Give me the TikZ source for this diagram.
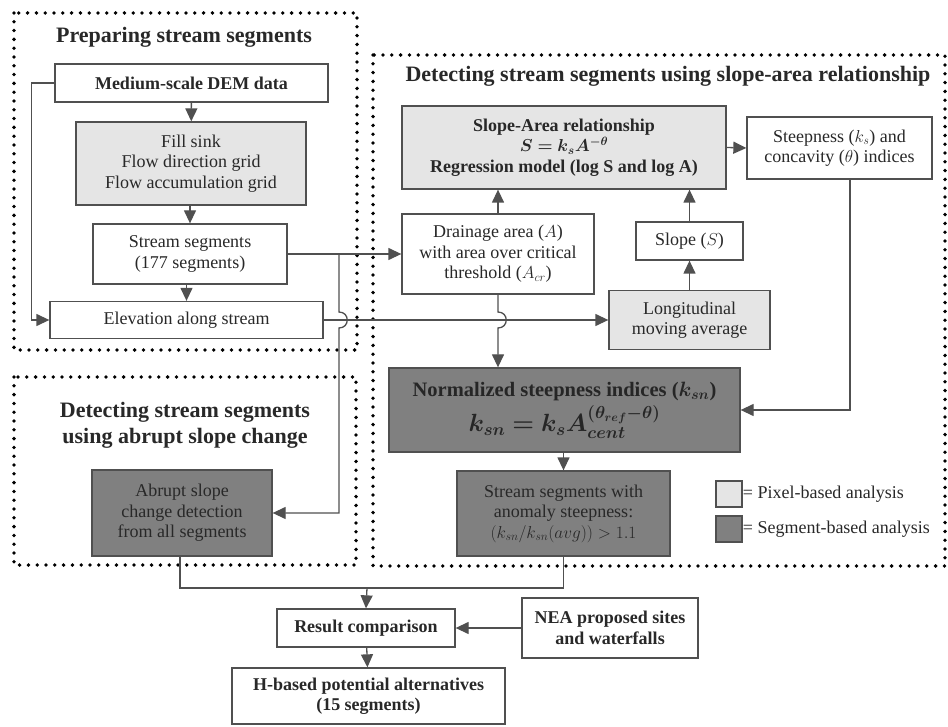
\documentclass[tikz,border=0pt]{standalone}
\usepackage{amsmath,bm}
\usepackage{fontspec}
\setmainfont{Liberation Serif}
\usepackage{tikz}
\usetikzlibrary{arrows.meta}
\definecolor{flowlight}{RGB}{229,229,229}
\definecolor{flowdark}{RGB}{128,128,128}
\definecolor{flowline}{RGB}{80,80,80}
\definecolor{flowtext}{RGB}{40,40,40}

\begin{document}
\begin{tikzpicture}[x=1pt,y=-1pt,
    every node/.style={font=\fontsize{18}{20.5}\selectfont,text=flowtext,align=center,inner sep=0pt},
    box/.style={draw=flowline,line width=1.3pt},
    whitebox/.style={box,fill=white},
    pixbox/.style={box,fill=flowlight},
    segbox/.style={box,fill=flowdark},
    heading/.style={font=\fontsize{22}{26}\selectfont\bfseries},
    link/.style={draw=flowline,line width=1.3pt},
    arr/.style={link,-{Triangle[length=13pt,width=12pt]}},
    frame/.style={draw=black,line width=3.8pt,line cap=round,dash pattern=on 0pt off 8.8pt}]
  \useasboundingbox (0,0) rectangle (948,727);
  % dotted groups
  \draw[frame] (14,13) rectangle (357,350);
  \draw[frame] (373,55) rectangle (945,566);
  \draw[frame] (14,377) rectangle (356,565);
  \node[heading] (t1) at (184,37) {Preparing stream segments};
  \node[heading] (t2) at (668,76) {Detecting stream segments using slope-area relationship};
  \node[heading] (t3) at (185,425) {Detecting stream segments\\using abrupt slope change};

  % preparing stream segments
  \node[whitebox,minimum width=273pt,minimum height=38pt,font=\fontsize{18}{20.5}\selectfont\bfseries] (dem) at (191.5,83) {Medium-scale DEM data};
  \node[pixbox,minimum width=230pt,minimum height=83pt] (fill) at (191,163.5) {Fill sink\\Flow direction grid\\Flow accumulation grid};
  \node[whitebox,minimum width=194pt,minimum height=60pt] (seg) at (190,254) {Stream segments\\(177 segments)};
  \node[whitebox,minimum width=273pt,minimum height=37pt] (elev) at (186.5,320) {Elevation along stream};

  % slope-area relationship
  \node[pixbox,minimum width=324pt,minimum height=83pt,font=\fontsize{18}{20.5}\selectfont\bfseries] (sa) at (564,147.5) {Slope-Area relationship\\$\bm{S=k_sA^{-\theta}}$\\Regression model (log S and log A)};
  \node[whitebox,minimum width=185pt,minimum height=62pt] (steep) at (839.5,148) {Steepness ($k_s$) and\\concavity ($\theta$) indices};
  \node[whitebox,minimum width=192pt,minimum height=80pt] (drain) at (498,254) {Drainage area ($A$)\\with area over critical\\threshold ($A_{cr}$)};
  \node[whitebox,minimum width=107pt,minimum height=38pt] (slope) at (689.5,241) {Slope ($S$)};
  \node[pixbox,minimum width=161pt,minimum height=59pt] (longi) at (689.5,320) {Longitudinal\\moving average};
  \node[segbox,minimum width=351pt,minimum height=84pt,text=black!85,font=\fontsize{20.5}{24}\selectfont\bfseries] (norm) at (564.5,410) {Normalized steepness indices ($\bm{k_{sn}}$)\\[4pt]{\fontsize{23}{26}\selectfont$\bm{k_{sn}=k_sA_{cent}^{(\theta_{ref}-\theta)}}$}};
  \node[segbox,minimum width=213pt,minimum height=85pt] (anom) at (563.5,513.5) {Stream segments with\\anomaly steepness:\\$(k_{sn}/k_{sn}(avg))>1.1$};

  % legend
  \node[pixbox,minimum width=26pt,minimum height=26pt] (lgpix) at (729,494) {};
  \node[segbox,minimum width=26pt,minimum height=26pt] (lgseg) at (729,529) {};
  \node[anchor=west] (lgpixtxt) at (lgpix.east) {= Pixel-based analysis};
  \node[anchor=west] (lgsegtxt) at (lgseg.east) {= Segment-based analysis};

  % abrupt slope change
  \node[segbox,minimum width=180pt,minimum height=86pt] (abrupt) at (182,513) {Abrupt slope\\change detection\\from all segments};

  % results
  \node[whitebox,minimum width=178pt,minimum height=38pt,font=\fontsize{18}{20.5}\selectfont\bfseries] (result) at (366,628) {Result comparison};
  \node[whitebox,minimum width=176pt,minimum height=60pt,font=\fontsize{18}{20.5}\selectfont\bfseries] (nea) at (610,628) {NEA proposed sites\\and waterfalls};
  \node[whitebox,minimum width=273pt,minimum height=56pt,font=\fontsize{18}{20.5}\selectfont\bfseries] (hbased) at (368.5,696) {H-based potential alternatives\\(15 segments)};

  \coordinate (br) at (339,254);
  \coordinate (mrg) at (367,588);

  % connectors
  \draw[arr] (dem) -- (fill);
  \draw[arr] (fill.south -| seg) -- (seg);
  \draw[arr] (seg.south -| elev) -- (elev);
  \draw[arr] (dem.west) -- ++(-23,0) |- (elev.west);
  \draw[arr] (seg.east) -- (drain.west);
  \draw[arr] (br) -- (339,312) .. controls (350,312) and (350,328) .. (339,328) |- (abrupt.east);
  \draw[arr] (elev.east) -- (longi.west);
  \draw[arr] (drain.south) -- (498,312) .. controls (509,312) and (509,328) .. (498,328) -- (drain.south |- norm.north);
  \draw[arr] (drain.north) -- (drain.north |- sa.south);
  \draw[arr] (longi) -- (slope);
  \draw[arr] (slope.north) -- (slope.north |- sa.south);
  \draw[arr] (sa.east) -- (steep.west);
  \draw[arr] ([xshift=10.5pt]steep.south) |- (norm.east);
  \draw[arr] (norm.south -| anom) -- (anom);
  \draw[link] ([xshift=-2pt]abrupt.south) |- (mrg);
  \draw[link] (anom.south) |- (mrg);
  \draw[arr] (mrg) -- (result.north);
  \draw[arr] (nea.west) -- (result.east);
  \draw[arr] (result) -- (hbased);
\end{tikzpicture}
\end{document}
